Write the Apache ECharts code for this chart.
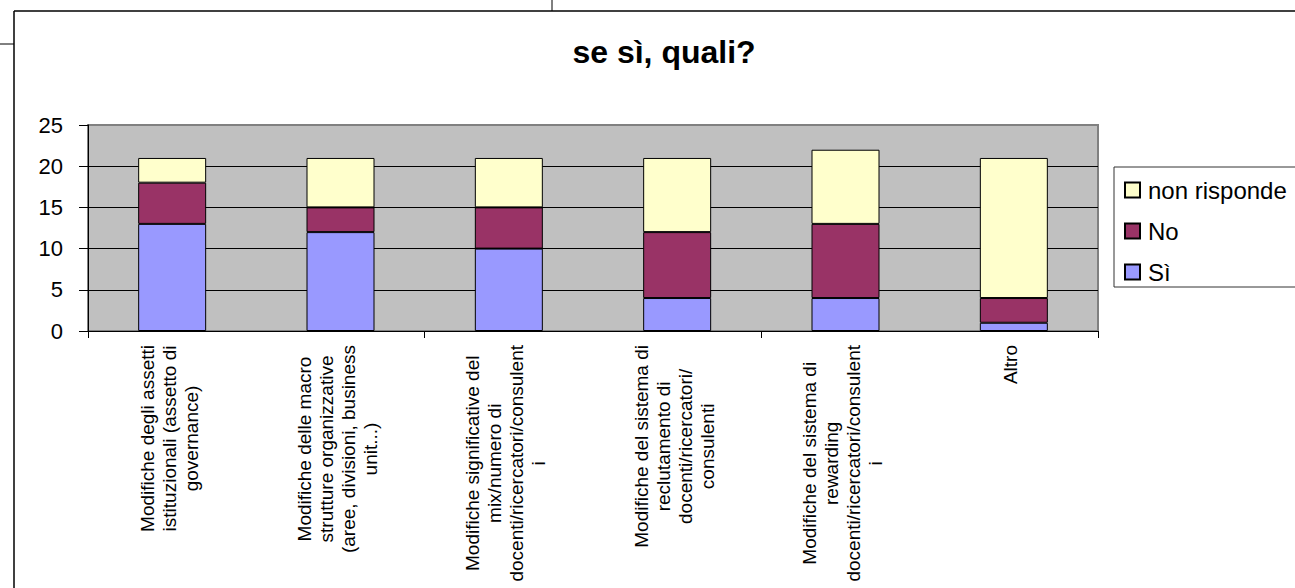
<!DOCTYPE html>
<html>
<head>
<meta charset="utf-8">
<script src="https://cdn.jsdelivr.net/npm/echarts@6/dist/echarts.min.js"></script>
<style>
html,body{margin:0;padding:0;background:#fff;}
#chart{width:1295px;height:588px;}
</style>
</head>
<body>
<div id="chart"></div>
<script>
// ---- data ----
var categories = [
  "Modifiche degli assetti\nistituzionali (assetto di\ngovernance)",
  "Modifiche delle macro\nstrutture organizzative\n(aree, divisioni, business\nunit...)",
  "Modifiche significative del\nmix/numero di\ndocenti/ricercatori/consulent\ni",
  "Modifiche del sistema di\nreclutamento di\ndocenti/ricercatori/\nconsulenti",
  "Modifiche del sistema di\nrewarding\ndocenti/ricercatori/consulent\ni",
  "Altro"
];
var seriesNames = ["Sì", "No", "non risponde"];
var valuesSi = [13, 12, 10, 4, 4, 1];
var valuesNo = [5, 3, 5, 8, 9, 3];
var valuesNonRisponde = [3, 6, 6, 9, 9, 17];
var yTicks = [0, 5, 10, 15, 20, 25];
var legendOrder = ["non risponde", "No", "Sì"];
var titleText = "se sì, quali?";

var FONT = "'Liberation Sans', Arial, Helvetica, sans-serif";
var LABEL_SIZE = 19;
var LINE_GAP = 22;
var colors = ["#9999FF", "#993366", "#FFFFCC"];

var ctx = document.createElement('canvas').getContext('2d');
ctx.font = LABEL_SIZE + 'px ' + FONT;
var catLines = categories.map(function (c) { return c.split('\n'); });
var blockW = catLines.map(function (ls) {
  return Math.max.apply(null, ls.map(function (l) { return ctx.measureText(l).width; }));
});

var chart = echarts.init(document.getElementById('chart'), null, {renderer: 'svg'});

function mkSeries(name, data, color) {
  return {
    name: name,
    type: 'bar',
    stack: 'total',
    data: data,
    barWidth: 68,
    itemStyle: {color: color, borderColor: '#000', borderWidth: 1},
    emphasis: {disabled: true}
  };
}

var frame = [
  {type: 'line', shape: {x1: 14, y1: 11, x2: 1300, y2: 11}, style: {stroke: '#000', lineWidth: 1.5}, silent: true},
  {type: 'line', shape: {x1: 14, y1: 11, x2: 14, y2: 600}, style: {stroke: '#000', lineWidth: 1.5}, silent: true},
  {type: 'line', shape: {x1: 0, y1: 44, x2: 14, y2: 44}, style: {stroke: '#000', lineWidth: 1}, silent: true},
  {type: 'line', shape: {x1: 552, y1: 0, x2: 552, y2: 11}, style: {stroke: '#000', lineWidth: 1}, silent: true},
  {type: 'rect', shape: {x: 1114, y: 167, width: 200, height: 120}, style: {fill: '#fff', stroke: '#333', lineWidth: 1}, z: -1, silent: true},
  {type: 'text', x: 664, y: 52, style: {text: titleText, fontFamily: FONT, fontSize: 32, fontWeight: 'bold', fill: '#000', textAlign: 'center', textVerticalAlign: 'middle', verticalAlign: 'middle'}, silent: true}
];

var option = {
  animation: false,
  backgroundColor: '#fff',
  grid: {
    left: 88, right: 197, top: 125, bottom: 257,
    show: true, backgroundColor: '#c0c0c0', borderColor: '#808080', borderWidth: 2
  },
  legend: {
    orient: 'vertical',
    left: 1124, top: 177,
    padding: 0,
    itemWidth: 15, itemHeight: 15, itemGap: 15,
    data: legendOrder,
    icon: 'rect',
    textStyle: {fontFamily: FONT, fontSize: 24, color: '#000', lineHeight: 26, padding: [0, 0, 0, 3]},
    selectedMode: false
  },
  xAxis: {
    type: 'category',
    data: categories,
    axisLine: {show: true, lineStyle: {color: '#000', width: 1}},
    axisTick: {show: true, length: 7, lineStyle: {color: '#000'}},
    axisLabel: {show: false}
  },
  yAxis: {
    type: 'value',
    min: yTicks[0], max: yTicks[yTicks.length - 1], interval: yTicks[1] - yTicks[0],
    axisLine: {show: true, lineStyle: {color: '#000', width: 1}},
    axisTick: {show: true, length: 9, lineStyle: {color: '#000'}},
    axisLabel: {fontFamily: FONT, fontSize: 22, color: '#000', margin: 25},
    splitLine: {show: true, lineStyle: {color: ['#000', '#000', '#000', '#000', '#000', '#808080'], width: 1}}
  },
  series: [
    mkSeries(seriesNames[0], valuesSi, colors[0]),
    mkSeries(seriesNames[1], valuesNo, colors[1]),
    mkSeries(seriesNames[2], valuesNonRisponde, colors[2])
  ],
  graphic: frame
};
chart.setOption(option);

// category labels: rotated, each block starting just below the axis, lines centred on each other
var axisY = chart.convertToPixel({yAxisIndex: 0}, yTicks[0]);
var labels = [];
catLines.forEach(function (ls, i) {
  var cx = chart.convertToPixel({xAxisIndex: 0}, categories[i]);
  var cy = axisY + 14 + blockW[i] / 2;
  ls.forEach(function (l, k) {
    labels.push({
      type: 'text',
      x: cx + (k - (ls.length - 1) / 2) * LINE_GAP - 3,
      y: cy,
      rotation: Math.PI / 2,
      silent: true,
      style: {text: l, fontFamily: FONT, fontSize: LABEL_SIZE, fill: '#000', textAlign: 'center', textVerticalAlign: 'middle', verticalAlign: 'middle'}
    });
  });
});
chart.setOption({graphic: frame.concat(labels)});
</script>
</body>
</html>
